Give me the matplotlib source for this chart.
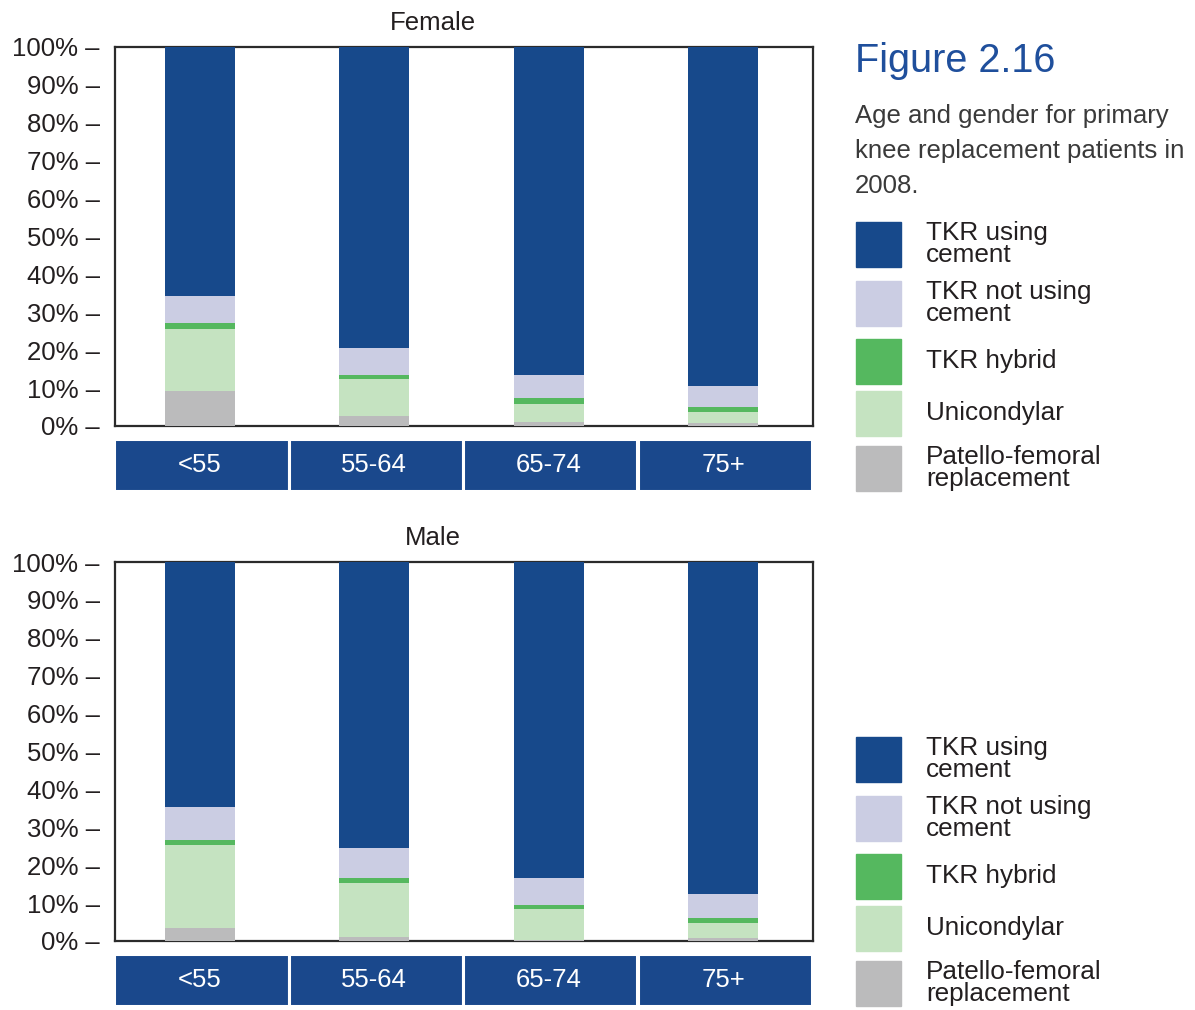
import matplotlib.pyplot as plt
from matplotlib.patches import Rectangle
import numpy as np

plt.rcParams['font.family'] = ['Liberation Sans', 'DejaVu Sans']

# Share of primary knee procedures (%) by age group, 2008
age_groups = ['<55', '55-64', '65-74', '75+']
series = ['TKR using\ncement', 'TKR not using\ncement', 'TKR hybrid',
          'Unicondylar', 'Patello-femoral\nreplacement']

female_pf = [9.2, 2.6, 1.1, 0.8]
female_uni = [16.4, 9.8, 4.7, 2.9]
female_hybrid = [1.6, 1.1, 1.6, 1.3]
female_uncemented = [7.1, 7.1, 6.1, 5.6]
female_cemented = [65.7, 79.4, 86.5, 89.4]

male_pf = [3.5, 1.0, 0.3, 0.8]
male_uni = [21.8, 14.3, 8.1, 3.9]
male_hybrid = [1.3, 1.3, 1.1, 1.3]
male_uncemented = [8.7, 7.9, 7.1, 6.4]
male_cemented = [64.7, 75.5, 83.4, 87.6]

colors = ['#17498b', '#cbcde3', '#55b85f', '#c5e3c1', '#bbbbbc']
box_blue = '#1a488c'
title_blue = '#1f4f9c'

W, H = 1195, 1010
fig = plt.figure(figsize=(W / 100, H / 100), dpi=100)


def fig_rect(left, top, right, bottom):
    return [left / W, 1 - bottom / H, (right - left) / W, (bottom - top) / H]


def draw_panel(top, title, cem, unc, hyb, uni, pf):
    ax = fig.add_axes(fig_rect(115, top, 813, top + 379))
    x = np.arange(len(age_groups))
    # stacked from the bottom: patello-femoral first, cemented TKR on top
    stack = [pf, uni, hyb, unc, cem]
    stack_colors = colors[::-1]
    base = np.zeros(len(x))
    for vals, c in zip(stack, stack_colors):
        ax.bar(x - 0.015, vals, width=0.4, bottom=base, color=c, zorder=3)
        base += np.array(vals)
    ax.set_xlim(-0.5, 3.5)
    ax.set_ylim(0, 100)
    ticks = np.arange(0, 101, 10)
    ax.set_yticks(ticks)
    ax.set_yticklabels([f'{t}% \u2013' for t in ticks], fontsize=18.5, color='#231f20')
    ax.tick_params(axis='y', length=0, pad=11)
    ax.set_xticks([])
    for s in ax.spines.values():
        s.set_color('#2b2b2b')
        s.set_linewidth(1.6)
    fig.text(433 / W, 1 - (top - 24) / H, title, ha='center', va='center',
             fontsize=18.5, color='#231f20')

    # age group boxes underneath the plot
    cax = fig.add_axes(fig_rect(114, top + 392, 812, top + 444))
    cax.bar(x, [1] * len(x), width=1.0, color=box_blue, edgecolor='white', linewidth=2.2)
    cax.set_xlim(-0.5, 3.5)
    cax.set_ylim(0, 1)
    cax.axis('off')
    for xi, lab in zip(x, age_groups):
        cax.text(xi - 0.01, 0.5, lab, ha='center', va='center', color='white', fontsize=18.5)


def draw_key(box_tops):
    for t, c, lab in zip(box_tops, colors, series):
        fig.add_artist(Rectangle((856 / W, 1 - (t + 45) / H), 45 / W, 45 / H,
                                 transform=fig.transFigure, color=c))
        fig.text(926 / W, 1 - (t + 22) / H, lab, ha='left', va='center',
                 fontsize=18.8, color='#231f20', linespacing=0.88)


draw_panel(47, 'Female', female_cemented, female_uncemented, female_hybrid, female_uni, female_pf)
draw_panel(562, 'Male', male_cemented, male_uncemented, male_hybrid, male_uni, male_pf)

fig.text(855 / W, 1 - 61 / H, 'Figure 2.16', ha='left', va='center',
         fontsize=28.5, color=title_blue)
fig.text(855 / W, 1 - 151 / H,
         'Age and gender for primary\nknee replacement patients in\n2008.',
         ha='left', va='center', fontsize=18.5, color='#3a3a3a', linespacing=1.58)

draw_key([222, 281, 339, 391, 446])
draw_key([737, 796, 854, 906, 961])

plt.savefig('out.png', dpi=100)
plt.close()
